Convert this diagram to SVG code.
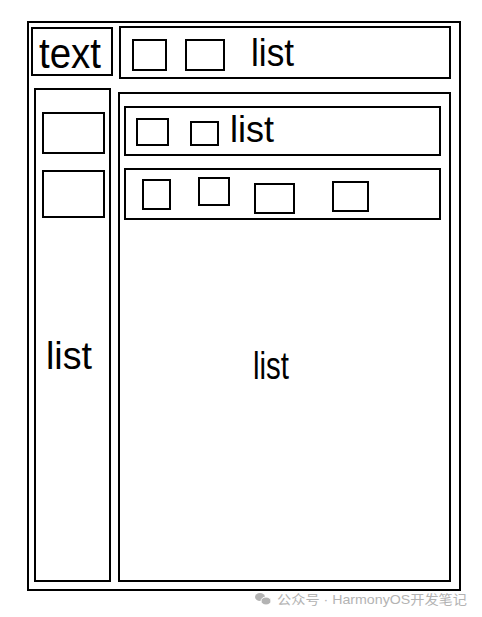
<svg xmlns="http://www.w3.org/2000/svg" width="482" height="617" viewBox="0 0 482 617">
<style>
.b{fill:none;stroke:#000;stroke-width:2}
.t{font-family:"Liberation Sans",Arial,sans-serif;fill:#000}
.w{font-family:"Liberation Sans","Noto Sans CJK SC",sans-serif;fill:#b3b3b3;font-size:13px}
</style>
<rect x="0" y="0" width="482" height="617" fill="#fff"/>
<g id="outer"><rect class="b" x="28" y="22" width="432" height="568"/></g>
<g id="text-node"><rect class="b" x="32" y="28" width="80" height="47"/>
<text class="t" x="39" y="68" font-size="42" textLength="62" lengthAdjust="spacingAndGlyphs">text</text></g>
<g id="top-list"><rect class="b" x="120" y="27" width="330" height="51"/>
<rect class="b" x="133" y="40" width="33" height="30"/>
<rect class="b" x="186" y="40" width="38" height="30"/>
<text class="t" x="251" y="66" font-size="38" textLength="43" lengthAdjust="spacingAndGlyphs">list</text></g>
<g id="left-list"><rect class="b" x="35" y="89" width="75" height="492"/>
<rect class="b" x="43" y="113" width="61" height="40"/>
<rect class="b" x="43" y="171" width="61" height="46"/>
<text class="t" x="46" y="369" font-size="38" textLength="46" lengthAdjust="spacingAndGlyphs">list</text></g>
<g id="main-list"><rect class="b" x="119" y="93" width="331" height="488"/>
<text class="t" x="253" y="379" font-size="38" textLength="36" lengthAdjust="spacingAndGlyphs">list</text></g>
<g id="row1"><rect class="b" x="125" y="107" width="315" height="48"/>
<rect class="b" x="137" y="119" width="31" height="26"/>
<rect class="b" x="191" y="122" width="27" height="23"/>
<text class="t" x="230" y="142" font-size="36" textLength="44" lengthAdjust="spacingAndGlyphs">list</text></g>
<g id="row2"><rect class="b" x="125" y="169" width="315" height="50"/>
<rect class="b" x="143" y="180" width="27" height="29"/>
<rect class="b" x="199" y="178" width="30" height="27"/>
<rect class="b" x="255" y="184" width="39" height="29"/>
<rect class="b" x="333" y="182" width="35" height="29"/></g>
<g id="connectors"></g>
<g id="watermark">
<ellipse cx="260" cy="597" rx="5" ry="4" fill="#b3b3b3"/>
<ellipse cx="266" cy="601" rx="5" ry="4" fill="#b3b3b3" stroke="#fff" stroke-width="1"/>
<text class="w" x="277" y="604" textLength="190" lengthAdjust="spacingAndGlyphs">公众号 · HarmonyOS开发笔记</text></g>
</svg>
